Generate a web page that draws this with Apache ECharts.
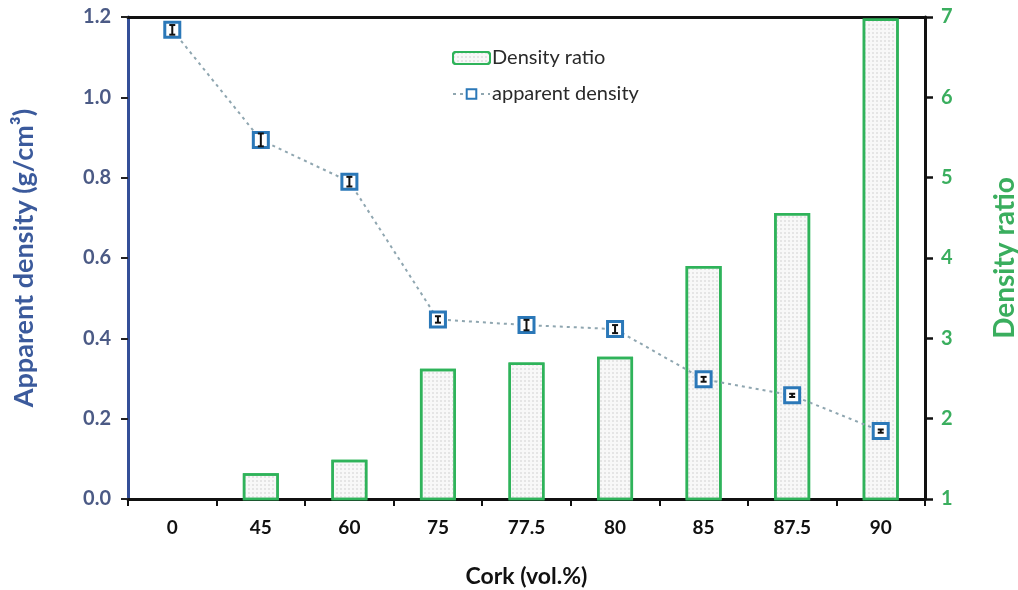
<!DOCTYPE html>
<html>
<head>
<meta charset="utf-8">
<script src="https://cdn.jsdelivr.net/npm/echarts@6/dist/echarts.min.js"></script>
<style>html,body{margin:0;padding:0;background:#fff;}#c{width:1018px;height:590px;}</style>
</head>
<body>
<div id="c"></div>
<script>
var categories = ['0', '45', '60', '75', '77.5', '80', '85', '87.5', '90'];
var densityRatio = [1.0, 1.32, 1.49, 2.62, 2.70, 2.77, 3.90, 4.56, 6.98];
var apparentDensity = [1.168, 0.894, 0.79, 0.447, 0.433, 0.423, 0.298, 0.258, 0.169];
var densityError = [0.012, 0.016, 0.012, 0.008, 0.013, 0.01, 0.006, 0.004, 0.004];
var leftTicks = [0, 0.2, 0.4, 0.6, 0.8, 1.0, 1.2];
var rightTicks = [1, 2, 3, 4, 5, 6, 7];

var FONT = 'Lato';
var chart = echarts.init(document.getElementById('c'), null, {renderer: 'canvas'});

var errData = categories.map(function (c, i) {
  return [i, apparentDensity[i] - densityError[i], apparentDensity[i] + densityError[i]];
});

chart.setOption({
  backgroundColor: '#fff',
  animation: false,
  textStyle: {fontFamily: FONT},
  grid: {left: 128, right: 93, top: 17, bottom: 91, containLabel: false, outerBoundsMode: 'none'},
  legend: {
    left: 447, top: 43, orient: 'vertical', itemGap: 16,
    itemWidth: 37, itemHeight: 12,
    textStyle: {fontFamily: FONT, fontSize: 20, color: '#2a2a2a', padding: [0, 0, 0, -3]},
    data: [
      {name: 'Density ratio'},
      {name: 'apparent density'}
    ]
  },
  xAxis: [{
    type: 'category', data: categories, position: 'bottom',
    name: 'Cork (vol.%)', nameLocation: 'middle', nameGap: 66,
    nameTextStyle: {fontFamily: FONT, fontSize: 23, fontWeight: 'bold', color: '#111'},
    axisLine: {show: true, onZero: false, lineStyle: {color: '#111', width: 3}},
    axisTick: {show: true, inside: false, length: 7, lineStyle: {color: '#111', width: 2}},
    axisLabel: {margin: 19, fontFamily: FONT, fontSize: 19, fontWeight: 'bold', color: '#111'}
  }, {
    type: 'category', data: categories, position: 'top',
    axisLine: {show: true, onZero: false, lineStyle: {color: '#111', width: 3}},
    axisTick: {show: false}, axisLabel: {show: false}
  }],
  yAxis: [{
    type: 'value', min: 0, max: 1.2, interval: 0.2, position: 'left',
    name: 'Apparent density (g/cm³)', nameLocation: 'middle', nameGap: 90, nameRotate: 90,
    nameTextStyle: {fontFamily: FONT, fontSize: 27, fontWeight: 'bold', color: '#3b5a9c'},
    axisLine: {show: true, lineStyle: {color: '#344f98', width: 3}},
    axisTick: {show: true, length: 7, lineStyle: {color: '#222', width: 2}},
    axisLabel: {margin: 17, fontFamily: FONT, fontSize: 20, fontWeight: 'bold', color: '#4b5a85',
      formatter: function (v) { return v.toFixed(1); }},
    splitLine: {show: false}
  }, {
    type: 'value', min: 1, max: 7, interval: 1, position: 'right',
    name: 'Density ratio', nameLocation: 'middle', nameGap: 66, nameRotate: 90,
    nameTextStyle: {fontFamily: FONT, fontSize: 28, fontWeight: 'bold', color: '#3aae5e'},
    axisLine: {show: true, lineStyle: {color: '#111', width: 3}},
    axisTick: {show: true, length: 8, lineStyle: {color: '#111', width: 2.5}},
    axisLabel: {margin: 16, fontFamily: FONT, fontSize: 20, fontWeight: 'bold', color: '#3aae5e'},
    splitLine: {show: false}
  }],
  series: [{
    name: 'Density ratio', type: 'bar', yAxisIndex: 1, xAxisIndex: 0,
    data: densityRatio, barWidth: 36,
    itemStyle: {
      color: '#f8f8f8', borderColor: '#2fb35a', borderWidth: 2.5,
      decal: {symbol: 'circle', symbolSize: 0.8, dashArrayX: [2, 2], dashArrayY: [2, 2], color: 'rgba(170,170,170,0.55)'}
    },
    z: 1
  }, {
    name: 'apparent density', type: 'line', yAxisIndex: 0, xAxisIndex: 0,
    data: apparentDensity,
    symbol: 'rect', symbolSize: 15,
    lineStyle: {color: '#8fa6b0', width: 2, type: [3, 4]},
    itemStyle: {color: '#ffffff', borderColor: '#2b78b8', borderWidth: 3},
    z: 3
  }, {
    name: 'err', type: 'custom', yAxisIndex: 0, xAxisIndex: 0, z: 4,
    data: errData,
    renderItem: function (params, api) {
      var x = api.coord([api.value(0), api.value(1)])[0];
      var lo = api.coord([api.value(0), api.value(1)])[1];
      var hi = api.coord([api.value(0), api.value(2)])[1];
      var cw = 3;
      var st = {stroke: '#111', lineWidth: 2};
      return {type: 'group', children: [
        {type: 'line', shape: {x1: x, y1: lo, x2: x, y2: hi}, style: st},
        {type: 'line', shape: {x1: x - cw, y1: lo, x2: x + cw, y2: lo}, style: st},
        {type: 'line', shape: {x1: x - cw, y1: hi, x2: x + cw, y2: hi}, style: st}
      ]};
    }
  }]
});
</script>
</body>
</html>
